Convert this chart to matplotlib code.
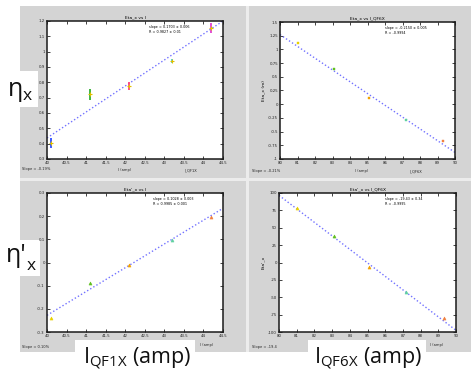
import matplotlib.pyplot as plt
from matplotlib.patches import Rectangle

W, H = 471, 376

# 电流 (amp)
qf1x_current = [40.1, 41.1, 42.1, 43.2, 44.2]
qf6x_current = [81.0, 83.1, 85.1, 87.2, 89.3]

# 色散 eta_x 与 eta'_x 的测量值
eta_qf1x = [0.404, 0.723, 0.777, 0.939, 1.152]
eta_qf1x_err = [0.03, 0.035, 0.026, 0.015, 0.033]
eta_qf6x = [1.108, 0.635, 0.12, -0.285, -0.68]
detap_qf1x = [-0.24, -0.09, -0.012, 0.096, 0.198]
detap_qf6x = [78, 38.8, -6, -42, -80]

# 拟合直线的两个端点
fit_qf1x_x = [40.0, 44.5]
fit_qf6x_x = [80.0, 90.0]
fit_eta_qf1x = [0.437, 1.2]
fit_eta_qf6x = [1.27, -0.88]
fit_detap_qf1x = [-0.228, 0.234]
fit_detap_qf6x = [96.6, -97.6]

# 刻度
qf1x_ticks = [40.0, 40.5, 41.0, 41.5, 42.0, 42.5, 43.0, 43.5, 44.0, 44.5]
qf6x_ticks = [80, 81, 82, 83, 84, 85, 86, 87, 88, 89, 90]
eta_qf1x_ticks = [0.3, 0.4, 0.5, 0.6, 0.7, 0.8, 0.9, 1.0, 1.1, 1.2]
eta_qf6x_ticks = [-1.0, -0.75, -0.5, -0.25, 0, 0.25, 0.5, 0.75, 1.0, 1.25, 1.5]
detap_qf1x_ticks = [-0.3, -0.2, -0.1, 0, 0.1, 0.2, 0.3]
detap_qf6x_ticks = [-100, -75, -50, -25, 0, 25, 50, 75, 100]

point_colors = ['#3050ff', '#30b030', '#ff4080', '#40d0e0', '#e040d0']
tri_colors = ['#e8d000', '#60c020', '#f0a000', '#60d0a0', '#f08040']


def fig_box(x0, y0, x1, y1):
	# 像素 -> figure 坐标
	return [x0 / W, 1 - y1 / H, (x1 - x0) / W, (y1 - y0) / H]


def add_rect(fig, x0, y0, x1, y1, color):
	l, b, w, h = fig_box(x0, y0, x1, y1)
	fig.add_artist(Rectangle((l, b), w, h, transform=fig.transFigure,
							 facecolor=color, edgecolor='none', zorder=0))


def small_text(fig, x, y, s, size=3.0, **kw):
	fig.text(x / W, 1 - y / H, s, fontsize=size, color='#222222', **kw)


def draw_panel(ax, x, y, fit_x, fit_y, xticks, yticks, yerr=None, tri=False):
	ax.plot(fit_x, fit_y, color='#5a5aff', linestyle=(0, (1, 1.6)), linewidth=1.0, alpha=0.85)
	for i in range(len(x)):
		if yerr is not None:
			ax.errorbar(x[i], y[i], yerr=yerr[i], color=point_colors[i], linewidth=1.3,
						capsize=0)
			ax.plot(x[i], y[i], marker='+', color='#e0c000', markersize=3.5, markeredgewidth=0.8)
		elif tri:
			ax.plot(x[i], y[i], marker='^', color=tri_colors[i], markersize=2.2,
					markeredgewidth=0.4)
		else:
			ax.plot(x[i], y[i], marker='s', color=tri_colors[i], markersize=1.8,
					markeredgewidth=0.3)
	ax.set_xlim(xticks[0], xticks[-1])
	ax.set_ylim(yticks[0], yticks[-1])
	ax.set_xticks(xticks)
	ax.set_yticks(yticks)
	ax.set_xticklabels([('%g' % v) for v in xticks])
	ax.set_yticklabels([('%g' % v) for v in yticks])
	ax.tick_params(direction='in', length=2, width=0.6, labelsize=2.8, pad=1.5,
				   top=True, right=True, colors='#222222')
	for s in ax.spines.values():
		s.set_linewidth(1.1)
		s.set_color('#1a1a1a')


fig = plt.figure(figsize=(W / 100, H / 100), dpi=100)
fig.patch.set_facecolor('white')

gray = '#d4d4d4'
# MATLAB 截图的灰色底
add_rect(fig, 20, 6, 246, 178, gray)
add_rect(fig, 249, 6, 471, 178, gray)
add_rect(fig, 20, 181, 246, 352, gray)
add_rect(fig, 249, 181, 471, 352, gray)
add_rect(fig, 246, 6, 249, 352, '#ececec')
add_rect(fig, 20, 178, 471, 181, '#ececec')
# 贴在上面的白色标签框
add_rect(fig, 0, 71, 38, 107, 'white')
add_rect(fig, 0, 240, 40, 276, 'white')
add_rect(fig, 75, 340, 195, 376, 'white')
add_rect(fig, 308, 340, 426, 376, 'white')

ax1 = fig.add_axes(fig_box(47, 21, 223, 159))
ax2 = fig.add_axes(fig_box(280, 22, 455, 159))
ax3 = fig.add_axes(fig_box(47, 193, 223, 332))
ax4 = fig.add_axes(fig_box(279, 193, 456, 332))

draw_panel(ax1, qf1x_current, eta_qf1x, fit_qf1x_x, fit_eta_qf1x, qf1x_ticks, eta_qf1x_ticks,
		   yerr=eta_qf1x_err)
draw_panel(ax2, qf6x_current, eta_qf6x, fit_qf6x_x, fit_eta_qf6x, qf6x_ticks, eta_qf6x_ticks)
draw_panel(ax3, qf1x_current, detap_qf1x, fit_qf1x_x, fit_detap_qf1x, qf1x_ticks,
		   detap_qf1x_ticks, tri=True)
draw_panel(ax4, qf6x_current, detap_qf6x, fit_qf6x_x, fit_detap_qf6x, qf6x_ticks,
		   detap_qf6x_ticks, tri=True)

# 各子图小字
ax1.set_title('Eta_x vs I', fontsize=3.2, pad=2)
ax2.set_title('Eta_x vs I_QF6X', fontsize=3.2, pad=2)
ax3.set_title('Eta\'_x vs I', fontsize=3.2, pad=2)
ax4.set_title('Eta\'_x vs I_QF6X', fontsize=3.2, pad=2)
ax2.set_ylabel('Eta_x (m)', fontsize=3.2, labelpad=2)
ax4.set_ylabel('Eta\'_x', fontsize=3.2, labelpad=2)
ax1.text(0.58, 0.97, 'slope = 0.1703 \u00b1 0.006\nR = 0.9827 \u00b1 0.01', transform=ax1.transAxes,
		 fontsize=2.4, va='top')
ax2.text(0.6, 0.97, 'slope = -0.2150 \u00b1 0.005\nR = -0.9994', transform=ax2.transAxes,
		 fontsize=2.4, va='top')
ax3.text(0.6, 0.97, 'slope = 0.1028 \u00b1 0.003\nR = 0.9985 \u00b1 0.001', transform=ax3.transAxes,
		 fontsize=2.4, va='top')
ax4.text(0.6, 0.97, 'slope = -19.43 \u00b1 0.34\nR = -0.9995', transform=ax4.transAxes,
		 fontsize=2.4, va='top')
small_text(fig, 22, 170, 'Slope = -0.19%', size=2.6)
small_text(fig, 118, 171, 'I (amp)', size=2.6)
small_text(fig, 185, 171, 'I_QF1X', size=2.6)
small_text(fig, 252, 172, 'Slope = -0.21%', size=2.6)
small_text(fig, 355, 172, 'I (amp)', size=2.6)
small_text(fig, 410, 172, 'I_QF6X', size=2.6)
small_text(fig, 22, 348, 'Slope = 0.10%', size=2.6)
small_text(fig, 252, 348, 'Slope = -19.4', size=2.6)
small_text(fig, 200, 346, 'I (amp)', size=2.6)
small_text(fig, 430, 346, 'I (amp)', size=2.6)

# 大号标签
plt.rcParams['mathtext.fontset'] = 'custom'
plt.rcParams['mathtext.rm'] = 'Open Sans'
plt.rcParams['mathtext.it'] = 'Open Sans:italic'
big = dict(family=['Open Sans', 'DejaVu Sans'], color='#111111')
fig.text(7 / W, 1 - 92 / H, r'$\mathrm{\eta_x}$', fontsize=18, va='center', ha='left', **big)
fig.text(6 / W, 1 - 256 / H, "\u03b7'", fontsize=18, va='center', ha='left', **big)
fig.text(27 / W, 1 - 266 / H, "x", fontsize=12.5, va='center', ha='left', **big)
fig.text(137 / W, 1 - 358 / H, r'$\mathrm{I_{QF1X}}$ (amp)', fontsize=15.5, va='center', ha='center', **big)
fig.text(368 / W, 1 - 358 / H, r'$\mathrm{I_{QF6X}}$ (amp)', fontsize=15.5, va='center', ha='center', **big)

plt.savefig('out.png', dpi=100)
